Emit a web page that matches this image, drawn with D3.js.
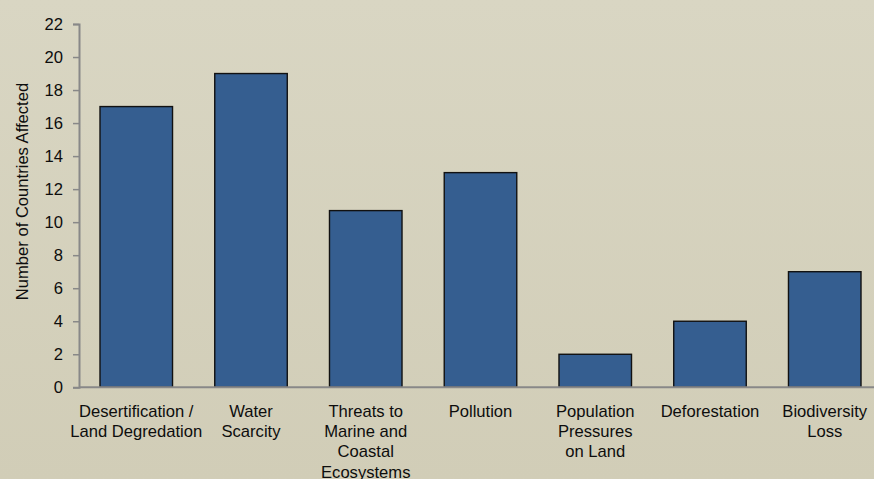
<!DOCTYPE html>
<html>
<head>
<meta charset="utf-8">
<script src="https://cdn.jsdelivr.net/npm/d3@7"></script>
<style>
  html, body { margin: 0; padding: 0; }
  body { width: 874px; height: 479px; overflow: hidden; }
  text { font-family: "Liberation Sans", Arial, sans-serif; fill: #0d0d0d; }
</style>
</head>
<body>
<svg id="chart" width="874" height="479"></svg>
<script>
// Environmental problems and the number of countries reporting each
const categories = [
  ["Desertification /", "Land Degredation"],
  ["Water", "Scarcity"],
  ["Threats to", "Marine and", "Coastal", "Ecosystems"],
  ["Pollution"],
  ["Population", "Pressures", "on Land"],
  ["Deforestation"],
  ["Biodiversity", "Loss"]
];
const values = [17, 19, 10.7, 13, 2, 4, 7];
const yTicks = [0, 2, 4, 6, 8, 10, 12, 14, 16, 18, 20, 22];
const yTitle = "Number of Countries Affected";

const W = 874, H = 479;
const FONT = 16.6;
const svg = d3.select("#chart");

// background with a faint vertical shade
const defs = svg.append("defs");
const grad = defs.append("linearGradient")
  .attr("id", "bg").attr("x1", 0).attr("y1", 0).attr("x2", 0).attr("y2", 1);
grad.append("stop").attr("offset", "0%").attr("stop-color", "#d9d6c3");
grad.append("stop").attr("offset", "100%").attr("stop-color", "#d1cdb7");
svg.append("rect").attr("width", W).attr("height", H).attr("fill", "url(#bg)");

const plotLeft = 79, plotBottom = 387.3, plotTop = 24;

const x = d3.scaleBand()
  .domain(d3.range(categories.length))
  .range([plotLeft, 882])
  .paddingInner(0.368)
  .paddingOuter(0.183);

const y = d3.scaleLinear().domain([0, 22]).range([plotBottom, plotTop]);

// bars
svg.append("g").selectAll("rect")
  .data(values)
  .join("rect")
  .attr("x", (d, i) => x(i))
  .attr("y", d => y(d))
  .attr("width", x.bandwidth())
  .attr("height", d => y(0) - y(d))
  .attr("fill", "#355e90")
  .attr("stroke", "#111")
  .attr("stroke-width", 1.4);

// y axis
const yAxis = svg.append("g")
  .attr("transform", `translate(${plotLeft},0)`)
  .call(d3.axisLeft(y).tickValues(yTicks).tickSize(6).tickPadding(10).tickFormat(d3.format("d")));
yAxis.select(".domain").attr("stroke", "#888").attr("stroke-width", 2);
yAxis.selectAll(".tick line").attr("stroke", "#888").attr("stroke-width", 1.5);
yAxis.selectAll(".tick text")
  .attr("font-size", FONT)
  .attr("font-family", "Liberation Sans, Arial, sans-serif")
  .attr("fill", "#0d0d0d");

// x axis baseline
svg.append("line")
  .attr("x1", plotLeft).attr("x2", W)
  .attr("y1", y(0)).attr("y2", y(0))
  .attr("stroke", "#888").attr("stroke-width", 2);

// category labels
const lab = svg.append("g").selectAll("text")
  .data(categories)
  .join("text")
  .attr("text-anchor", "middle")
  .attr("font-size", FONT)
  .attr("x", (d, i) => x(i) + x.bandwidth() / 2)
  .attr("y", 416.5);
lab.selectAll("tspan")
  .data(d => d)
  .join("tspan")
  .attr("x", function () { return d3.select(this.parentNode).attr("x"); })
  .attr("dy", (d, i) => i === 0 ? 0 : 20.4)
  .text(d => d);

// y axis title
svg.append("text")
  .attr("transform", "translate(27.5,191.5) rotate(-90)")
  .attr("text-anchor", "middle")
  .attr("font-size", FONT)
  .text(yTitle);
</script>
</body>
</html>
